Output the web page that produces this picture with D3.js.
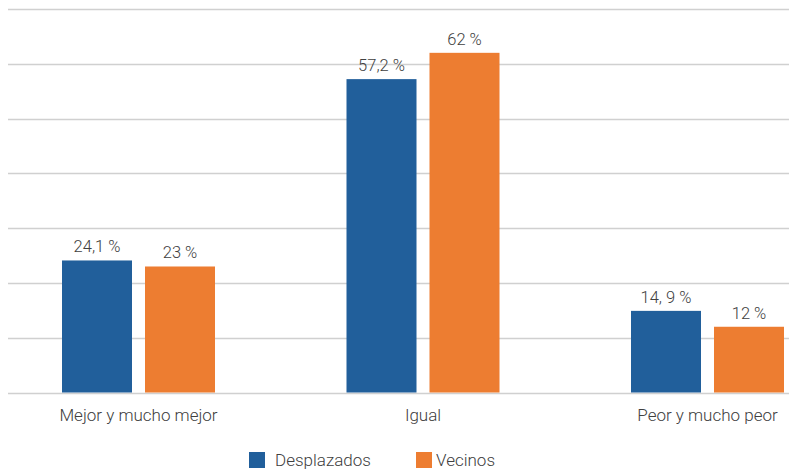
<!DOCTYPE html>
<html><head><meta charset="utf-8">
<script src="https://cdn.jsdelivr.net/npm/d3@7"></script>
<style>body{margin:0;background:#fff}svg{display:block;font-family:Roboto,sans-serif;font-weight:300}</style>
</head><body><svg id="c" width="789" height="471"></svg>
<script>
const categories = ["Mejor y mucho mejor", "Igual", "Peor y mucho peor"];
const seriesNames = ["Desplazados", "Vecinos"];
const desplazados = [24.1, 57.2, 14.9];
const vecinos = [23, 62, 12];
const desplazadosLabels = ["24,1 %", "57,2 %", "14, 9 %"];
const vecinosLabels = ["23 %", "62 %", "12 %"];
const yTicks = [0, 10, 20, 30, 40, 50, 60, 70];
const colors = ["#215f9b", "#ed7d31"];

const svg = d3.select("#c");
const y = d3.scaleLinear().domain([0, 70]).range([392.5, 9]);
const x = d3.scaleBand().domain(categories).range([-3.75, 849.75]).paddingInner(0.0).paddingOuter(0);

// gridlines
svg.append("g").selectAll("line").data(yTicks).join("line")
  .attr("x1", 8).attr("x2", 789)
  .attr("y1", d => Math.round(y(d)) + 0.5).attr("y2", d => Math.round(y(d)) + 0.5)
  .attr("stroke", "#d0d0d0").attr("stroke-width", 1.3);

const series = [desplazados, vecinos];
const labels = [desplazadosLabels, vecinosLabels];
const barW = 70, gap = 13;
categories.forEach((c, i) => {
  const cx = x(c) + x.bandwidth() / 2;
  series.forEach((s, j) => {
    const bx = cx - (2 * barW + gap) / 2 + j * (barW + gap);
    svg.append("rect").attr("x", bx).attr("y", y(s[i])).attr("width", barW)
      .attr("height", y(0) - y(s[i])).attr("fill", colors[j]);
    svg.append("text").attr("x", bx + barW / 2).attr("y", y(s[i]) - 8)
      .attr("text-anchor", "middle").attr("font-size", 16.5).attr("fill", "#404040")
      .text(labels[j][i]);
  });
  svg.append("text").attr("x", cx).attr("y", 421).attr("text-anchor", "middle")
    .attr("font-size", 17).attr("fill", "#404040").text(c);
});

// legend
const legX = [249, 416];
const legTextX = [275, 436];
seriesNames.forEach((n, j) => {
  svg.append("rect").attr("x", legX[j]).attr("y", 452).attr("width", 16).attr("height", 16).attr("fill", colors[j]);
  svg.append("text").attr("x", legTextX[j]).attr("y", 466).attr("font-size", 17).attr("fill", "#404040").text(n);
});
</script></body></html>
